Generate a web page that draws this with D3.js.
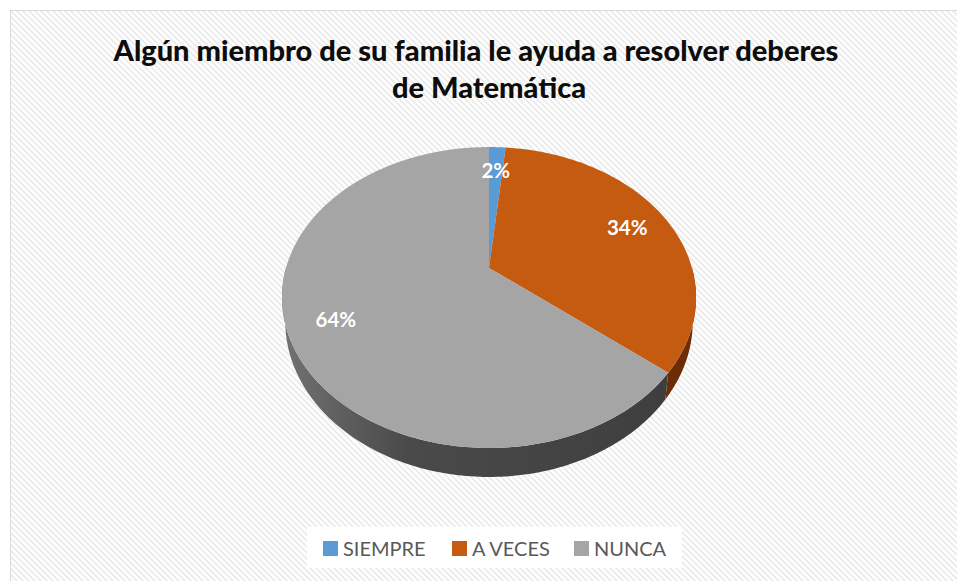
<!DOCTYPE html>
<html>
<head>
<meta charset="utf-8">
<script src="https://cdn.jsdelivr.net/npm/d3@7"></script>
<style>
  body { margin: 0; background: #fff; }
  text { font-family: Lato, "Open Sans", sans-serif; }
</style>
</head>
<body>
<script>
// Chart data
var categories = ["SIEMPRE", "A VECES", "NUNCA"];
var values = [1, 22, 41];
var colors = ["#5b9bd5", "#c55a11", "#a5a5a5"];
var titleLines = ["Algún miembro de su familia le ayuda a resolver deberes", "de Matemática"];

var width = 957, height = 581;

var svg = d3.select("body")
            .append("svg")
            .attr("width", width)
            .attr("height", height);

var defs = svg.append("defs");

// light diagonal hatch used for the chart area
var hatch = defs.append("pattern")
                .attr("id", "hatch")
                .attr("patternUnits", "userSpaceOnUse")
                .attr("width", 6)
                .attr("height", 6);
hatch.append("rect").attr("width", 6).attr("height", 6).attr("fill", "#ffffff");
hatch.append("path")
     .attr("d", "M-1,-1 L7,7 M-4,2 L2,8 M4,-2 L8,2")
     .attr("stroke", "#ebebeb")
     .attr("stroke-width", 1.8);

// gradients for the pie walls
var gGray = defs.append("linearGradient")
                .attr("id", "sideGray")
                .attr("gradientUnits", "userSpaceOnUse")
                .attr("x1", 282).attr("x2", 696).attr("y1", 0).attr("y2", 0);
gGray.append("stop").attr("offset", 0).attr("stop-color", "#727272");
gGray.append("stop").attr("offset", 0.3).attr("stop-color", "#4a4a4a");
gGray.append("stop").attr("offset", 1).attr("stop-color", "#3d3d3d");

var sideColor = d3.scaleOrdinal().domain(categories)
                  .range(["#2f5f8a", "#6b2c06", "url(#sideGray)"]);
var color = d3.scaleOrdinal().domain(categories).range(colors);

// chart area
svg.append("rect")
   .attr("x", 10.5).attr("y", 10.5)
   .attr("width", width).attr("height", height)
   .attr("fill", "url(#hatch)")
   .attr("stroke", "#d9d9d9");

// title, fitted to the width of the original
var title = svg.append("g");
var t1 = title.append("text")
              .attr("x", 476).attr("y", 61)
              .attr("text-anchor", "middle")
              .attr("font-weight", "900")
              .attr("font-size", 26)
              .attr("fill", "#0d0d0d")
              .text(titleLines[0]);
var fs = 26 * 725 / t1.node().getComputedTextLength();
t1.attr("font-size", fs);
title.append("text")
     .attr("x", 489).attr("y", 98)
     .attr("text-anchor", "middle")
     .attr("font-weight", "900")
     .attr("font-size", fs)
     .attr("fill", "#0d0d0d")
     .text(titleLines[1]);

// perspective projection of a tilted disc (z = 0 top, z = 1 bottom)
var cx = 489, cy = 268, rx = 203, ry = 144.7, persp = -0.196, depth = 23.3;
function proj(theta, f, z) {
    var u = f * Math.sin(theta) * (1 - 0.016 * z), v = -f * Math.cos(theta);
    var s = 1 / (1 + persp * v);
    return [cx + rx * u * s, cy + ry * v * s + depth * s * z];
}
function rim(a0, a1, z) {
    var n = Math.max(2, Math.ceil((a1 - a0) / (Math.PI / 180))), pts = [];
    for (var i = 0; i <= n; i++) pts.push(proj(a0 + (a1 - a0) * i / n, 1, z));
    return pts;
}

var pie = d3.pie().sort(null).value(function(d) { return d.value; });
var arcs = pie(categories.map(function(c, i) { return {name: c, value: values[i]}; }));
var line = d3.line();

// walls (front half only)
var walls = svg.append("g");
arcs.forEach(function(d) {
    var a0 = Math.max(d.startAngle, Math.PI / 2), a1 = Math.min(d.endAngle, 3 * Math.PI / 2);
    if (a1 <= a0) return;
    var pts = rim(a0, a1, 0).concat(rim(a0, a1, 1).reverse());
    walls.append("path")
         .attr("d", line(pts) + "Z")
         .attr("fill", sideColor(d.data.name));
});

// top faces
svg.append("g")
   .selectAll("path")
   .data(arcs)
   .enter()
   .append("path")
   .attr("d", function(d) { return line([[cx, cy]].concat(rim(d.startAngle, d.endAngle, 0))) + "Z"; })
   .attr("fill", function(d) { return color(d.data.name); });

// percentage labels
var fmt = d3.format(".0%"), total = d3.sum(values);
svg.append("g")
   .selectAll("text")
   .data(arcs)
   .enter()
   .append("text")
   .attr("x", function(d) { return proj((d.startAngle + d.endAngle) / 2, 0.78, 0)[0]; })
   .attr("y", function(d) { return proj((d.startAngle + d.endAngle) / 2, 0.78, 0)[1]; })
   .attr("dy", "0.36em")
   .attr("text-anchor", "middle")
   .attr("font-weight", "bold")
   .attr("font-size", 20.5)
   .attr("fill", "#ffffff")
   .text(function(d) { return fmt(d.data.value / total); });

// legend
svg.append("rect")
   .attr("x", 307).attr("y", 527)
   .attr("width", 375).attr("height", 41)
   .attr("fill", "#ffffff");
var legendX = [323, 452, 574];
var legend = svg.append("g")
                .selectAll("g")
                .data(categories)
                .enter()
                .append("g")
                .attr("transform", function(d, i) { return "translate(" + legendX[i] + ",541)"; });
legend.append("rect")
      .attr("width", 15).attr("height", 15)
      .attr("fill", function(d) { return color(d); });
legend.append("text")
      .attr("x", 20).attr("y", 14.5)
      .attr("font-size", 20)
      .attr("fill", "#595959")
      .text(function(d) { return d; });
</script>
</body>
</html>
